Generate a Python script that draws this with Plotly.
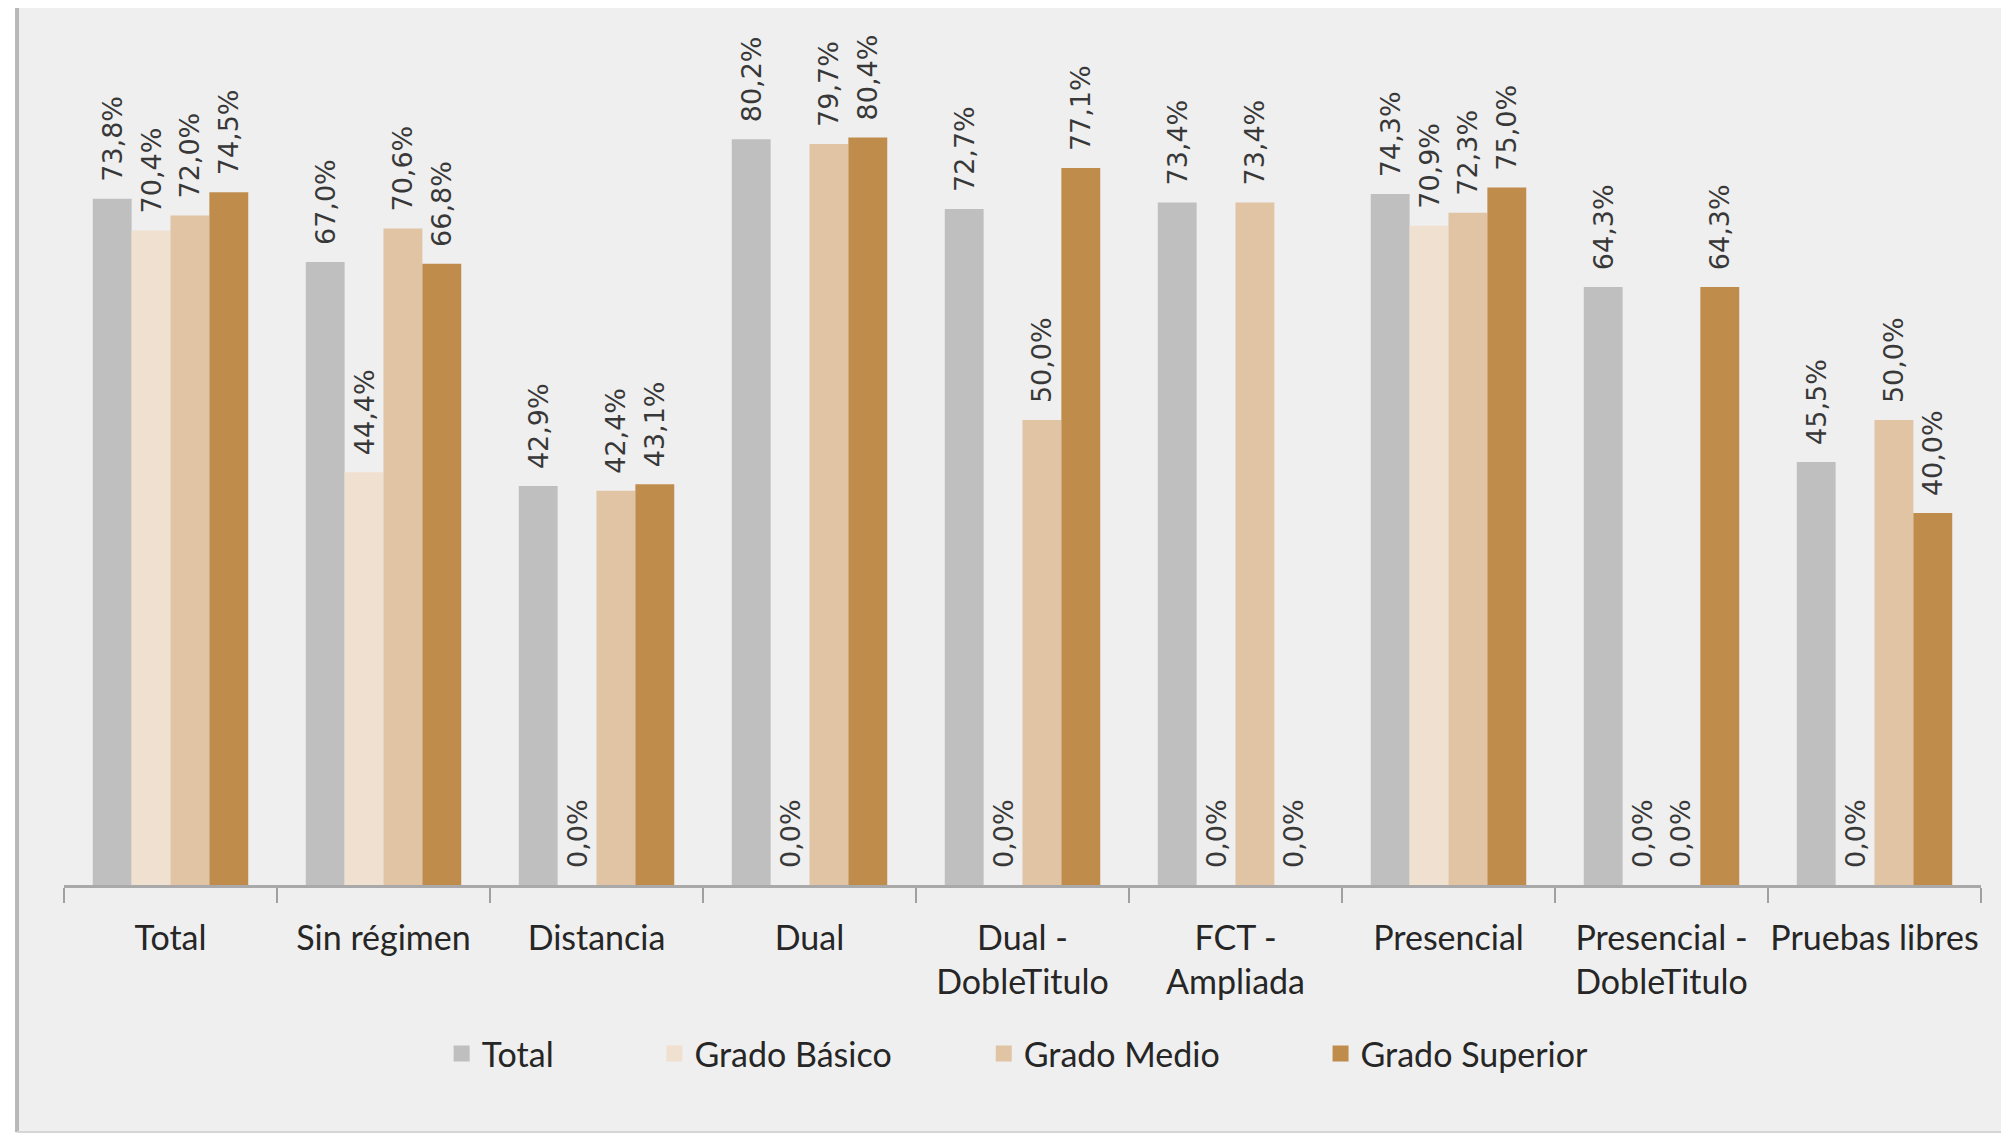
import plotly.graph_objects as go

# categories and series
categorias = ['Total', 'Sin régimen', 'Distancia', 'Dual', 'Dual -<br>DobleTitulo',
              'FCT -<br>Ampliada', 'Presencial', 'Presencial -<br>DobleTitulo', 'Pruebas libres']

total = [73.8, 67.0, 42.9, 80.2, 72.7, 73.4, 74.3, 64.3, 45.5]
grado_basico = [70.4, 44.4, 0.0, 0.0, 0.0, 0.0, 70.9, 0.0, 0.0]
grado_medio = [72.0, 70.6, 42.4, 79.7, 50.0, 73.4, 72.3, 0.0, 50.0]
grado_superior = [74.5, 66.8, 43.1, 80.4, 77.1, 0.0, 75.0, 64.3, 40.0]

series = [
    ('Total', total, '#bfbfbf'),
    ('Grado Básico', grado_basico, '#f0e0d0'),
    ('Grado Medio', grado_medio, '#e0c4a4'),
    ('Grado Superior', grado_superior, '#bf8c4c'),
]

# padding so legend entries spread like the original
pad = {'Total': 11, 'Grado Básico': 10, 'Grado Medio': 11, 'Grado Superior': 0}

FONT = 'Lato, Open Sans, sans-serif'
LABEL_FONT = 'DejaVu Sans, sans-serif'


def fmt(v):
    return ('%.1f' % v).replace('.', ',') + '%'


data = []
for name, vals, color in series:
    data.append(go.Bar(
        x=categorias, y=vals, name=name, showlegend=False,
        marker=dict(color=color, line=dict(width=0)),
        text=['\u00a0\u2009' + fmt(v) for v in vals],
        textposition='outside', textangle=-90, constraintext='none',
        cliponaxis=False,
        textfont=dict(family=LABEL_FONT, size=27, color='#383838'),
    ))

# legend entries with bigger square swatches
for name, vals, color in series:
    data.append(go.Scatter(
        x=[None], y=[None], mode='markers', name=name + '\u00a0' * pad[name],
        marker=dict(symbol='square', size=16, color=color),
    ))

# page decoration: white strip at left, gray frame lines
shapes = [
    dict(type='rect', xref='paper', yref='paper', x0=-0.03, x1=-0.0256, y0=-0.3, y1=1.01,
         fillcolor='white', line=dict(width=0), layer='below'),
    dict(type='line', xref='paper', yref='paper', x0=-0.0245, x1=-0.0245, y0=-0.2823, y1=1.01,
         line=dict(color='#b8b8b8', width=4)),
    dict(type='line', xref='paper', yref='paper', x0=-0.0245, x1=1.02, y0=-0.2823, y1=-0.2823,
         line=dict(color='#d6d6d6', width=2)),
]

layout = go.Layout(
    width=2001, height=1125,
    paper_bgcolor='#efefef', plot_bgcolor='#efefef',
    margin=dict(l=56, r=28, t=2, b=248),
    barmode='group', bargap=0.27, bargroupgap=0,
    font=dict(family=FONT, size=34, color='#262626'),
    xaxis=dict(type='category', showline=True, linecolor='#a9a9a9', linewidth=3,
               ticks='outside', tickson='boundaries', ticklen=15, tickwidth=2,
               tickcolor='#a0a0a0', tickfont=dict(size=34, color='#262626'),
               tickangle=0, showgrid=False, ticklabelstandoff=21, automargin=False),
    yaxis=dict(range=[0, 94.1], visible=False, showgrid=False, zeroline=False,
               automargin=False),
    legend=dict(orientation='h', x=0.197, xanchor='left', y=-0.193, yanchor='middle',
                font=dict(size=34, color='#262626'), bgcolor='rgba(0,0,0,0)'),
    shapes=shapes,
)

fig = go.Figure(data=data, layout=layout)
fig.write_html('out.html')
